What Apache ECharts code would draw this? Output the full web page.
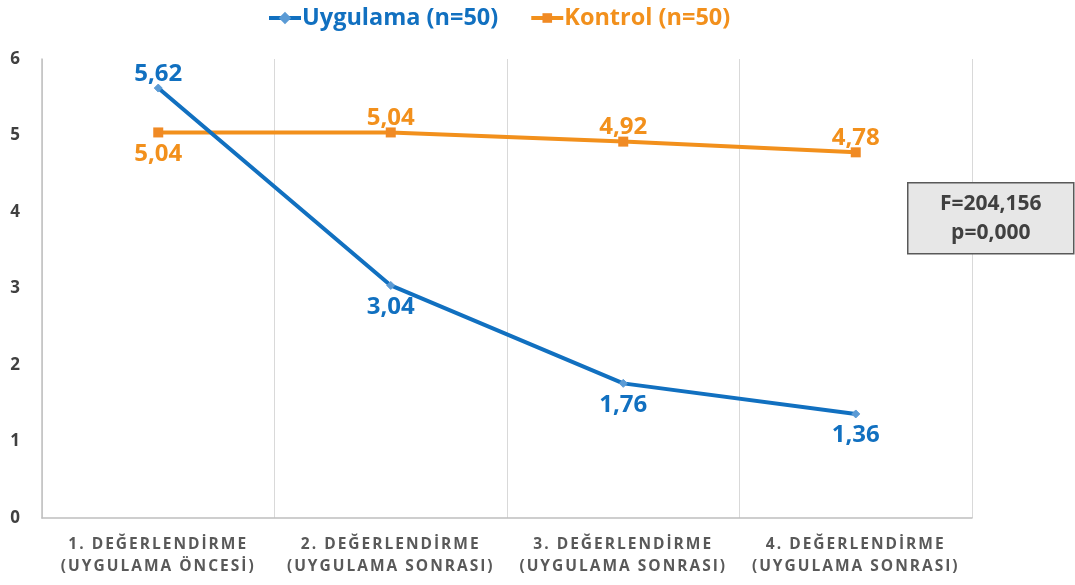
<!DOCTYPE html>
<html><head><meta charset="utf-8">
<script src="https://cdn.jsdelivr.net/npm/echarts@6/dist/echarts.min.js"></script>
<style>html,body{margin:0;padding:0;background:#fff}#c{width:1075px;height:585px}</style>
</head><body><div id="c"></div>
<script>
const categories = ['1. DEĞERLENDİRME\n(UYGULAMA ÖNCESİ)','2. DEĞERLENDİRME\n(UYGULAMA SONRASI)','3. DEĞERLENDİRME\n(UYGULAMA SONRASI)','4. DEĞERLENDİRME\n(UYGULAMA SONRASI)'];
const uygulama = [5.62, 3.04, 1.76, 1.36];
const kontrol = [5.04, 5.04, 4.92, 4.78];
const uygLabelPos = ['top','bottom','bottom','bottom'];
const konLabelPos = ['bottom','top','top','top'];
const BLUE = '#1170C0', ORANGE = '#F2901C';
const FONT = '"Open Sans", sans-serif';
const fmt = v => v.toFixed(2).replace('.', ',');

// letter spacing for the category axis labels (font size 15.51px used as marker)
(function () {
  const proto = CanvasRenderingContext2D.prototype;
  const orig = proto.fillText;
  proto.fillText = function (t, x, y, w) {
    if ('letterSpacing' in this) {
      this.letterSpacing = (this.font && this.font.indexOf('15.51px') >= 0) ? '2px' : '0px';
    }
    return w === undefined ? orig.call(this, t, x, y) : orig.call(this, t, x, y, w);
  };
})();

const chart = echarts.init(document.getElementById('c'));
const lbl = (pos) => ({position: pos, distance: pos === 'top' ? -3 : 5});
chart.setOption({
  animation: false,
  textStyle: {fontFamily: FONT},
  legend: {
    top: 1, left: 262, itemGap: 31, itemWidth: 32, itemHeight: 12,
    textStyle: {fontSize: 23.5, fontWeight: 'bold', fontFamily: FONT, padding: [0,0,0,-4]},
    data: [
      {name: 'Uygulama (n=50)', textStyle: {color: BLUE}, lineStyle: {width: 4}},
      {name: 'Kontrol (n=50)', textStyle: {color: ORANGE}, lineStyle: {width: 4}}
    ]
  },
  grid: {left: 42, right: 103, top: 59, bottom: 67, containLabel: false},
  xAxis: {
    type: 'category', data: categories, boundaryGap: true,
    axisLine: {lineStyle: {color: '#BFBFBF', width: 1.5}},
    axisTick: {show: false},
    splitLine: {show: true, lineStyle: {color: '#D9D9D9'}},
    axisLabel: {color: '#595959', fontSize: 15.51, fontWeight: 'bold', lineHeight: 22, margin: 16, interval: 0, fontFamily: FONT}
  },
  yAxis: {
    type: 'value', min: 0, max: 6, interval: 1,
    axisLine: {show: true, lineStyle: {color: '#BFBFBF', width: 1.5}},
    axisTick: {show: false},
    splitLine: {show: false},
    axisLabel: {color: '#404040', fontSize: 17, fontWeight: 'bold', margin: 22, fontFamily: FONT}
  },
  series: [
    {
      name: 'Uygulama (n=50)', type: 'line',
      data: uygulama.map((v, i) => ({value: v, label: lbl(uygLabelPos[i])})),
      symbol: 'diamond', symbolSize: 8,
      lineStyle: {color: BLUE, width: 4},
      itemStyle: {color: '#5B9BD5', borderColor: '#5B9BD5', borderWidth: 1},
      label: {show: true, color: BLUE, fontSize: 24, fontWeight: 'bold', formatter: p => fmt(p.value), fontFamily: FONT},
      z: 3
    },
    {
      name: 'Kontrol (n=50)', type: 'line',
      data: kontrol.map((v, i) => ({value: v, label: lbl(konLabelPos[i])})),
      symbol: 'rect', symbolSize: 10,
      lineStyle: {color: ORANGE, width: 4},
      itemStyle: {color: '#F08A24'},
      label: {show: true, color: ORANGE, fontSize: 24, fontWeight: 'bold', formatter: p => fmt(p.value), fontFamily: FONT},
      z: 2
    }
  ],
  graphic: [{
    type: 'group', left: 907, top: 182, z: 100,
    children: [
      {type: 'rect', z: 100, shape: {x: 0, y: 0, width: 166, height: 71}, style: {fill: '#E7E7E7', stroke: '#595959', lineWidth: 1.5}},
      {type: 'text', z: 101, style: {x: 83, y: 36, text: 'F=204,156\np=0,000', align: 'center', verticalAlign: 'middle', fill: '#404040', font: 'bold 21px "Open Sans", sans-serif', lineHeight: 29}}
    ]
  }]
});
</script></body></html>
